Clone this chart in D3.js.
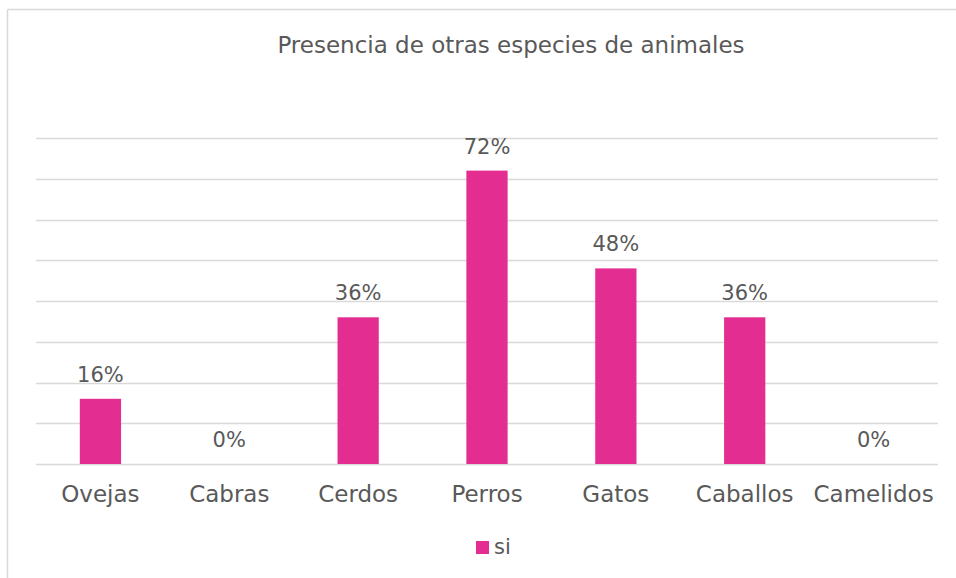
<!DOCTYPE html>
<html>
<head>
<meta charset="utf-8">
<script src="https://cdn.jsdelivr.net/npm/d3@7"></script>
<style>
  body { margin: 0; background: #fff; }
  svg { display: block; font-family: "DejaVu Sans", sans-serif; }
</style>
</head>
<body>
<div id="chart"></div>
<script>
var categories = ["Ovejas", "Cabras", "Cerdos", "Perros", "Gatos", "Caballos", "Camelidos"];
var values = [16, 0, 36, 72, 48, 36, 0];
var seriesName = "si";
var yTicks = [0, 10, 20, 30, 40, 50, 60, 70, 80];

var width = 956, height = 578,
    margin = { top: 138, bottom: 114, left: 36, right: 18 },
    colour = "#e32d91",
    textColour = "#595959";

var data = categories.map(function (c, i) { return { key: c, value: values[i] }; });

var svg = d3.select("#chart").append("svg")
    .attr("width", width)
    .attr("height", height);

// chart border: only top and left edges show in the window
svg.append("line")
    .attr("x1", 7.5).attr("x2", width)
    .attr("y1", 9.5).attr("y2", 9.5)
    .attr("stroke", "#d9d9d9").attr("stroke-width", 1.5);
svg.append("line")
    .attr("x1", 7.5).attr("x2", 7.5)
    .attr("y1", 9.5).attr("y2", height)
    .attr("stroke", "#d9d9d9").attr("stroke-width", 1.5);

var innerWidth = width - margin.left - margin.right,
    innerHeight = height - margin.top - margin.bottom;

var xScale = d3.scaleBand()
    .domain(categories)
    .range([0, innerWidth])
    .paddingInner(0.68)
    .paddingOuter(0.34);

var yScale = d3.scaleLinear()
    .domain([0, 80])
    .range([innerHeight, 0]);

var g = svg.append("g")
    .attr("transform", "translate(" + margin.left + "," + margin.top + ")");

// gridlines
g.selectAll(".grid")
  .data(yTicks)
  .enter().append("line")
    .attr("class", "grid")
    .attr("x1", 0)
    .attr("x2", innerWidth)
    .attr("y1", function (d) { return Math.round(yScale(d)) + 0.5; })
    .attr("y2", function (d) { return Math.round(yScale(d)) + 0.5; })
    .attr("stroke", "#d9d9d9")
    .attr("stroke-width", 1.3);

// bars
g.selectAll(".bar")
  .data(data)
  .enter().append("rect")
    .attr("class", "bar")
    .attr("x", function (d) { return xScale(d.key); })
    .attr("width", xScale.bandwidth())
    .attr("y", function (d) { return yScale(d.value); })
    .attr("height", function (d) { return innerHeight - yScale(d.value); })
    .attr("fill", colour);

// data labels
g.selectAll(".lbl")
  .data(data)
  .enter().append("text")
    .attr("class", "lbl")
    .attr("x", function (d) { return xScale(d.key) + xScale.bandwidth() / 2; })
    .attr("y", function (d) { return yScale(d.value) - 17; })
    .attr("text-anchor", "middle")
    .attr("fill", textColour)
    .style("font-size", "21px")
    .text(function (d) { return d.value + "%"; });

// x axis labels
var xAxis = d3.axisBottom(xScale).tickSize(0).tickPadding(0);
var xAxisG = g.append("g")
    .attr("transform", "translate(0," + innerHeight + ")")
    .call(xAxis);
xAxisG.select(".domain").remove();
xAxisG.selectAll("text")
    .attr("dy", 0)
    .attr("y", 38)
    .attr("fill", textColour)
    .style("font-family", "DejaVu Sans, sans-serif")
    .style("font-size", "23px");

// title
svg.append("text")
    .attr("x", 511)
    .attr("y", 53)
    .attr("text-anchor", "middle")
    .attr("fill", textColour)
    .style("font-size", "23px")
    .text("Presencia de otras especies de animales");

// legend
var legend = svg.append("g").attr("transform", "translate(476,541)");
legend.append("rect")
    .attr("width", 13).attr("height", 13)
    .attr("fill", colour);
legend.append("text")
    .attr("x", 18).attr("y", 13)
    .attr("fill", textColour)
    .style("font-size", "21px")
    .text(seriesName);
</script>
</body>
</html>
